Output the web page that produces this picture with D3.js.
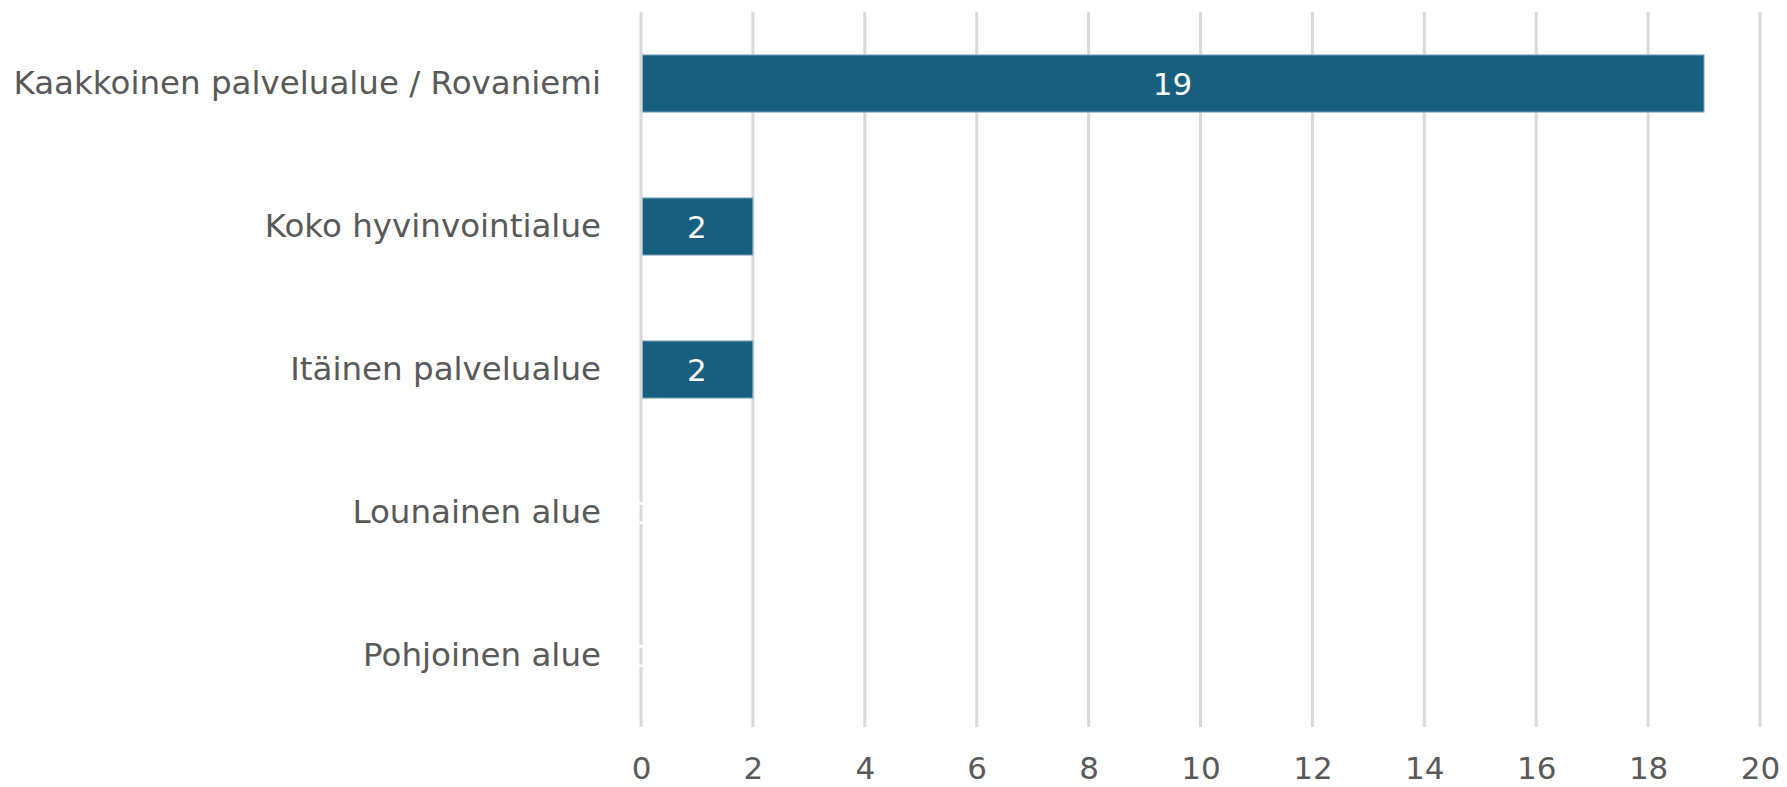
<!DOCTYPE html>
<html>
<head>
<meta charset="utf-8">
<script src="https://cdn.jsdelivr.net/npm/d3@7"></script>
<style>
  html, body { margin: 0; padding: 0; background: #fff; }
  svg { display: block; }
</style>
</head>
<body>
<svg id="chart" width="1787" height="787"></svg>
<script>
const categories = [
  "Kaakkoinen palvelualue / Rovaniemi",
  "Koko hyvinvointialue",
  "Itäinen palvelualue",
  "Lounainen alue",
  "Pohjoinen alue"
];
const values = [19, 2, 2, 0, 0];
const xTicks = [0, 2, 4, 6, 8, 10, 12, 14, 16, 18, 20];

const M = { left: 641, right: 1760, top: 12, bottom: 727 };
const FONT = "'DejaVu Sans', 'Open Sans', sans-serif";

const svg = d3.select("#chart");

const x = d3.scaleLinear().domain([0, 20]).range([M.left, M.right]);
const y = d3.scaleBand().domain(categories).range([M.top, M.bottom]).paddingInner(0.6).paddingOuter(0.3);

// gridlines
svg.append("g")
  .selectAll("line")
  .data(xTicks)
  .join("line")
  .attr("x1", d => x(d)).attr("x2", d => x(d))
  .attr("y1", M.top).attr("y2", M.bottom)
  .attr("stroke", "#d9d9d9")
  .attr("stroke-width", 3);

// x axis labels
const xAxis = d3.axisBottom(x).tickValues(xTicks).tickSize(0).tickPadding(0);
const gx = svg.append("g").attr("transform", `translate(0, 779)`).call(xAxis);
gx.select(".domain").remove();
gx.selectAll("text")
  .attr("font-family", FONT)
  .attr("font-size", 31)
  .attr("fill", "#595959")
  .attr("dy", "0");

// y axis labels
const yAxis = d3.axisLeft(y).tickSize(0).tickPadding(0);
const gy = svg.append("g").attr("transform", `translate(${M.left - 40}, 0)`).call(yAxis);
gy.select(".domain").remove();
gy.selectAll("text")
  .attr("font-family", FONT)
  .attr("font-size", 32.5)
  .attr("fill", "#595959");

// bars
svg.append("g")
  .selectAll("rect")
  .data(values)
  .join("rect")
  .attr("x", x(0) + 1.5)
  .attr("y", (d, i) => y(categories[i]))
  .attr("width", d => Math.max(0, x(d) - x(0) - 1.5))
  .attr("height", y.bandwidth())
  .attr("fill", "#175e7f")
  .attr("stroke", "#8fb3c6")
  .attr("stroke-width", 1);

// data labels (white, including zero values)
svg.append("g")
  .selectAll("text")
  .data(values.map((v, i) => ({ v, c: categories[i] })))
  .join("text")
  .attr("x", d => (x(0) + x(d.v)) / 2)
  .attr("y", d => y(d.c) + y.bandwidth() / 2)
  .attr("text-anchor", "middle")
  .attr("dy", "0.37em")
  .attr("font-family", FONT)
  .attr("font-size", 31)
  .attr("fill", "#ffffff")
  .text(d => d.v);
</script>
</body>
</html>
